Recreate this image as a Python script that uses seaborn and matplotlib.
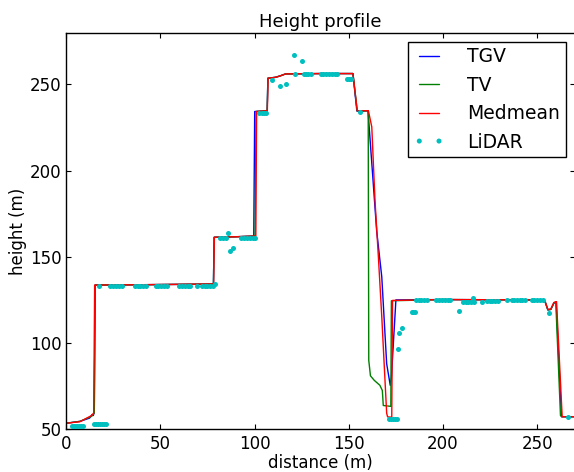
import numpy as np
import pandas as pd
import matplotlib
matplotlib.use("Agg")
import matplotlib.pyplot as plt
import seaborn as sns

# ---------------- data ----------------
tgv_x = [0, 7.4, 12.5, 13.8, 14.5, 15.0, 15.5, 40, 78.2, 78.6, 90, 99.6, 100.1, 106.7, 107.1,
         111, 113.5, 116.5, 135, 152.2, 154.3, 160.2, 164.8, 167.5, 170.1, 172.0, 172.6, 175.0,
         200, 252.6, 254.2, 255.6, 257.2, 258.8, 260.0, 262.8, 270]
tgv_y = [53.5, 54.6, 56.5, 58.5, 58.0, 60, 133.6, 133.8, 134.2, 161.3, 161.6, 162, 234.2, 234.6, 253.5,
         254, 254.8, 256, 256.2, 256.2, 234.5, 234.6, 165, 138.4, 88, 75.5, 80, 125,
         125.2, 125, 123.8, 119.2, 119.5, 123.2, 123.8, 57.3, 57.3]

tv_x = [0, 7.4, 13.6, 15.0, 15.5, 40, 78.2, 78.6, 90, 100.3, 100.8, 106.7, 107.1,
        111, 113.5, 116.5, 135, 152.2, 154.5, 160.3, 160.6, 161.5, 163.5, 166.5, 167.8, 168.3,
        172.3, 172.6, 200, 252.6, 254.2, 255.6, 257.2, 258.8, 259.8, 262.3, 263, 270]
tv_y = [53.5, 54.6, 57.5, 59.5, 133.6, 133.8, 134.2, 161.3, 161.6, 162, 234.2, 234.6, 253.5,
        254, 254.8, 256, 256.2, 256.2, 234.5, 234.6, 90, 81, 78.4, 75.5, 72.5, 63.8,
        63.3, 124.5, 125.2, 125, 123.8, 119.2, 119.5, 123.2, 123.8, 58, 57.3, 57.3]

med_x = [0, 7.4, 13.6, 14.7, 15.2, 40, 78.3, 78.7, 90, 100.7, 101.1, 106.8, 107.2,
         111, 113.5, 116.5, 135, 152.2, 154.5, 160.4, 162.2, 163.9, 165.7, 167.5, 169.2, 170.1,
         170.6, 172.8, 173.2, 200, 252.6, 254.2, 255.6, 257.2, 258.8, 260.2, 263.2, 270]
med_y = [53.5, 54.4, 58.0, 59.5, 133.6, 133.8, 134.2, 161.3, 161.6, 162, 234.2, 234.6, 253.5,
         254, 254.8, 256, 256.2, 256.2, 234.5, 234.7, 225.3, 182.8, 150, 115.3, 78.6, 59.3,
         57.2, 57, 124.7, 125.2, 125, 123.8, 119.5, 119.8, 123.5, 124, 57.3, 57.3]

lidar_x = [3, 4, 5, 6, 7, 8, 9,
           15, 16, 17, 18, 19, 20, 21,
           17.5, 23.5, 25, 26.5, 28, 29.5, 36.5, 38, 39.5, 41, 42.5,
           47.5, 49, 50.5, 52, 53.5, 60, 61.5, 63, 64.5, 66, 69.3,
           72, 73.5, 75, 76.5, 78, 79,
           81.7, 83.5, 85, 85.8, 87, 88.4, 93, 94.5, 96, 97.5, 99, 100.5,
           102.5, 103.8, 105, 106.3,
           109.3, 113.4, 116.5, 121, 125, 121.5, 126, 127.3, 128.6, 130,
           135, 136.5, 138, 139.5, 141, 142.5, 144, 149, 150, 151, 156,
           171.5, 172.5, 173.5, 174.5, 175.5,
           176.3, 176.8, 178.1, 183.4, 184.2, 185,
           185.5, 187, 188.5, 190, 191.5, 196.5, 198, 199.5, 201, 202.5, 203.7,
           208.6, 210.8, 212, 213.5, 215, 216.5, 215.7, 220.5,
           223.2, 224.7, 226.2, 227.7, 229.2, 233.8,
           236.4, 237.8, 239.2, 240.6, 242, 243.4,
           247, 248.5, 250, 251.5, 253, 256.4, 266.5]
lidar_y = [52, 52, 52, 52, 52, 52, 52,
           53, 53, 53, 53, 53, 53, 53,
           133, 133, 133, 133, 133, 133, 133, 133, 133, 133, 133,
           133, 133, 133, 133, 133, 133, 133, 133, 133, 133, 133,
           133, 133, 133, 133, 133, 134,
           160.8, 160.8, 160.8, 163.7, 153.6, 154.8, 160.8, 160.8, 160.8, 160.8, 160.8, 160.8,
           233.5, 233.5, 233.5, 233.5,
           252.7, 249, 250, 267, 263.7, 256, 256, 256, 256, 256,
           256, 256, 256, 256, 256, 256, 256, 252.8, 252.8, 252.8, 233.7,
           56, 56, 56, 56, 56,
           96.7, 105.8, 108.9, 117.9, 117.9, 117.9,
           124.7, 124.7, 124.7, 124.7, 124.7, 124.7, 124.7, 124.7, 124.7, 124.7, 124.7,
           118.5, 123.8, 123.8, 123.8, 123.8, 123.8, 126, 123.5,
           124.5, 124.5, 124.5, 124.5, 124.5, 124.7,
           124.7, 124.7, 124.7, 124.7, 124.7, 124.7,
           124.7, 124.7, 124.7, 124.7, 124.7, 117.3, 57]

x_ticks = [0, 50, 100, 150, 200, 250]
y_ticks = [50, 100, 150, 200, 250]

# ---------------- style ----------------
sns.set_theme(style="white", rc={
    "xtick.direction": "in", "ytick.direction": "in",
    "xtick.top": True, "ytick.right": True,
    "xtick.bottom": True, "ytick.left": True,
    "axes.edgecolor": "black", "axes.linewidth": 1.0,
    "xtick.color": "black", "ytick.color": "black",
    "xtick.major.size": 3.5, "ytick.major.size": 3.5,
    "xtick.major.width": 0.8, "ytick.major.width": 0.8,
    "text.color": "black", "axes.labelcolor": "black",
})
plt.rcParams["font.family"] = ["DejaVu Sans"]

fig = plt.figure(figsize=(5.74, 4.72), dpi=100)
ax = fig.add_axes([66 / 574, (472 - 429.3) / 472, (575 - 66) / 574, (429.3 - 32.5) / 472])

df_tgv = pd.DataFrame({"x": tgv_x, "y": tgv_y})
df_tv = pd.DataFrame({"x": tv_x, "y": tv_y})
df_med = pd.DataFrame({"x": med_x, "y": med_y})
df_lidar = pd.DataFrame({"x": lidar_x, "y": lidar_y})

sns.lineplot(data=df_tgv, x="x", y="y", ax=ax, color=(0, 0, 1), lw=1.0, sort=False,
             estimator=None, label="TGV")
sns.lineplot(data=df_tv, x="x", y="y", ax=ax, color=(0, 0.5, 0), lw=1.0, sort=False,
             estimator=None, label="TV")
sns.lineplot(data=df_med, x="x", y="y", ax=ax, color=(1, 0, 0), lw=1.0, sort=False,
             estimator=None, label="Medmean")
sns.scatterplot(data=df_lidar, x="x", y="y", ax=ax, color=(0, 0.75, 0.75), s=13,
                linewidth=0, label="LiDAR", zorder=5)

ax.set_xlim(0, 270)
ax.set_ylim(50, 280)
ax.set_xticks(x_ticks)
ax.set_yticks(y_ticks)
ax.tick_params(axis="both", labelsize=12)
ax.tick_params(axis="x", pad=4)
ax.tick_params(axis="y", pad=3)
ax.set_xlabel("distance (m)", fontsize=12, labelpad=1)
ax.set_ylabel("height (m)", fontsize=12, labelpad=2)
ax.set_title("Height profile", fontsize=13, pad=4)

leg = ax.legend(loc="upper right", fontsize=13.5, numpoints=2, scatterpoints=2,
                scatteryoffsets=[0.5],
                fancybox=False, framealpha=1, edgecolor="black",
                borderpad=0.3, labelspacing=0.5, handlelength=1.65,
                handletextpad=1.2, borderaxespad=0.5)
leg.get_frame().set_linewidth(1.0)

fig.savefig("out.png", dpi=100)
